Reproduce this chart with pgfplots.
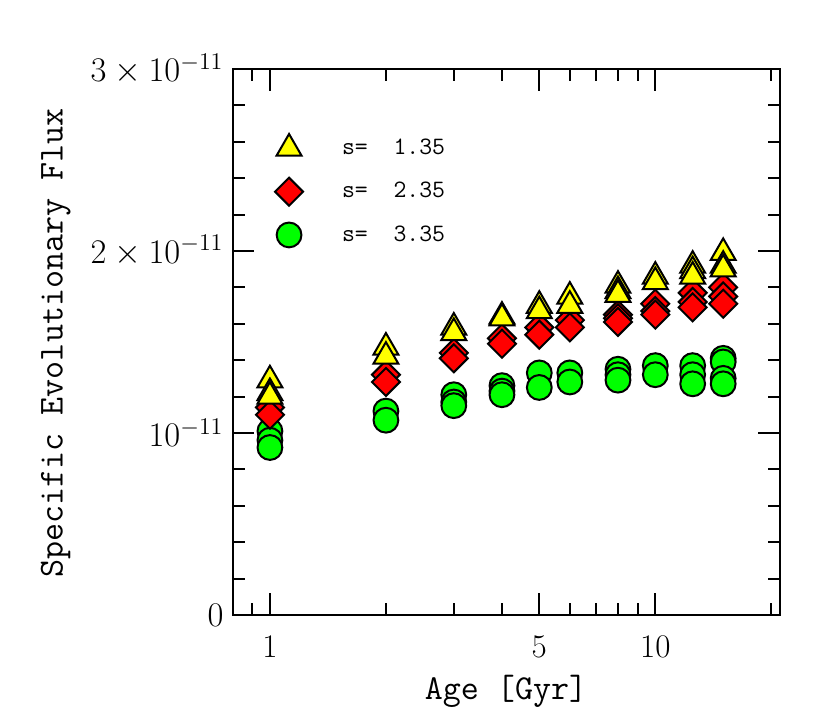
\documentclass[border=0pt]{standalone}
\usepackage{fontspec}
\usepackage{pgfplots}
\pgfplotsset{compat=1.18}
\definecolor{myyellow}{RGB}{255,255,0}
\definecolor{myred}{RGB}{255,0,0}
\definecolor{mygreen}{RGB}{0,255,0}
\begin{document}
\begin{tikzpicture}
\begin{axis}[
  name=ax,
  scale only axis,
  width=273.5pt, height=273pt,
  xmode=log,
  xmin=0.8, xmax=21,
  ymin=0, ymax=3,
  axis line style={line width=1pt},
  every tick/.style={black, line width=1pt},
  major tick length=11pt,
  minor tick length=6pt,
  tick align=inside,
  xtick={1,5,10},
  xticklabels={1,5,10},
  minor xtick={0.8,0.9,2,3,4,6,7,8,9,20},
  ytick={0,1,2,3},
  yticklabels={$0$,$10^{-11}$,$2\times10^{-11}$,$3\times10^{-11}$},
  minor ytick={0.2,0.4,0.6,0.8,1.2,1.4,1.6,1.8,2.2,2.4,2.6,2.8},
  tick label style={font=\fontsize{16.5}{18}\selectfont},
  xticklabel style={yshift=-7pt},
  yticklabel style={xshift=-1pt},
  xlabel={Age [Gyr]},
  label style={font=\fontsize{17.5}{20}\ttfamily},
  xlabel style={at={(axis description cs:0.5,-0.14)}, anchor=center},
  clip=false,
  legend style={draw=none, fill=none, at={(axis description cs:0.066,0.889)}, anchor=north west,
    font=\fontsize{12.5}{14}\ttfamily, row sep=8pt,
    /tikz/every odd column/.append style={column sep=17.5pt}},
  legend cell align=left,
]
\addlegendimage{only marks, mark=triangle*, mark size=7.2pt, mark options={fill=myyellow, draw=black, line width=1pt}}
\addlegendentry{s=\ \ 1.35}
\addlegendimage{only marks, mark=square*, mark size=4.95pt, mark options={fill=myred, draw=black, line width=1pt, rotate=45}}
\addlegendentry{s=\ \ 2.35}
\addlegendimage{only marks, mark=*, mark size=6.2pt, mark options={fill=mygreen, draw=black, line width=1pt}}
\addlegendentry{s=\ \ 3.35}
% circles s=3.35
\addplot[only marks, mark=*, mark size=6.2pt, mark options={fill=mygreen, draw=black, line width=1pt}, forget plot] coordinates {
(1,1.01) (1,0.96) (1,0.92)
(2,1.12) (2,1.07)
(3,1.21) (3,1.17) (3,1.15)
(4,1.26) (4,1.23) (4,1.21)
(5,1.33) (5,1.25)
(6,1.33) (6,1.28)
(8,1.35) (8,1.32) (8,1.29)
(10,1.37) (10,1.32)
(12.5,1.37) (12.5,1.32) (12.5,1.27)
(15,1.41) (15,1.39) (15,1.30) (15,1.27)
};
% diamonds s=2.35
\addplot[only marks, mark=square*, mark size=4.95pt, mark options={fill=myred, draw=black, line width=1pt, rotate=45}, forget plot] coordinates {
(1,1.14) (1,1.10)
(2,1.32) (2,1.28)
(3,1.44) (3,1.41)
(4,1.52) (4,1.49)
(5,1.58) (5,1.54)
(6,1.62) (6,1.58)
(8,1.65) (8,1.63) (8,1.61)
(10,1.71) (10,1.67) (10,1.65)
(12.5,1.77) (12.5,1.72) (12.5,1.69)
(15,1.80) (15,1.75) (15,1.71)
};
% triangles s=1.35
\addplot[only marks, mark=triangle*, mark size=7.2pt, mark options={fill=myyellow, draw=black, line width=1pt}, forget plot] coordinates {
(1,1.29) (1,1.22) (1,1.20)
(2,1.47) (2,1.42)
(3,1.58) (3,1.55)
(4,1.64) (4,1.63)
(5,1.70) (5,1.67)
(6,1.75) (6,1.70)
(8,1.81) (8,1.78) (8,1.76)
(10,1.86) (10,1.83)
(12.5,1.92) (12.5,1.89) (12.5,1.86)
(15,1.99) (15,1.92) (15,1.90)
};
\end{axis}
\node[rotate=90, anchor=center, font=\fontsize{17.5}{20}\ttfamily, inner sep=0pt]
  at ([xshift=-88.5pt, yshift=-0.5pt]ax.west) {Specific Evolutionary Flux};
\path (ax.south west) ++(-116.3pt,-56pt) coordinate (bl);
\path (ax.north east) ++(25.25pt,34.5pt) coordinate (tr);
\path (bl) rectangle (tr);
\end{tikzpicture}
\end{document}
